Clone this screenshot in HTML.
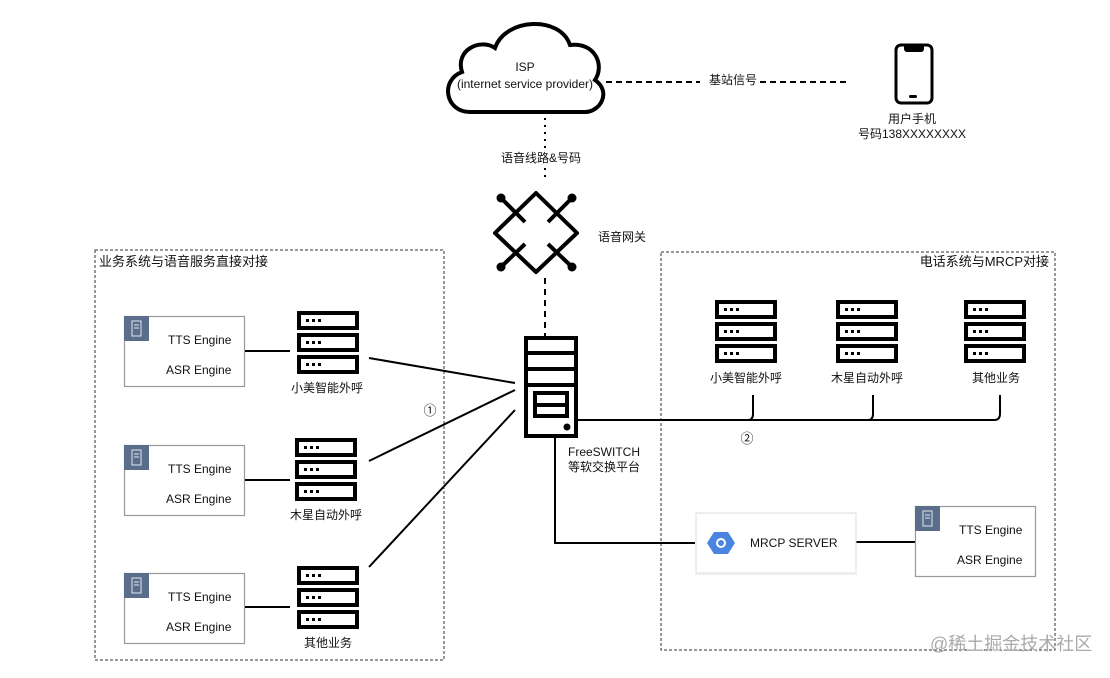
<!DOCTYPE html>
<html><head><meta charset="utf-8"><style>
html,body{margin:0;padding:0;background:#fff;}
svg text{font-family:"Liberation Sans","Noto Sans CJK SC",sans-serif;fill:#111;}
</style></head><body>
<svg width="1110" height="673" viewBox="0 0 1110 673" xmlns="http://www.w3.org/2000/svg">
<defs>
<g id="srv">
  <rect x="2" y="2" width="58" height="15" fill="none" stroke="#000" stroke-width="4"/>
  <rect x="2" y="24" width="58" height="15" fill="none" stroke="#000" stroke-width="4"/>
  <rect x="2" y="46" width="58" height="15" fill="none" stroke="#000" stroke-width="4"/>
  <g fill="#000"><rect x="9" y="8" width="3" height="3"/><rect x="15" y="8" width="3" height="3"/><rect x="21" y="8" width="3" height="3"/>
  <rect x="9" y="30" width="3" height="3"/><rect x="15" y="30" width="3" height="3"/><rect x="21" y="30" width="3" height="3"/>
  <rect x="9" y="52" width="3" height="3"/><rect x="15" y="52" width="3" height="3"/><rect x="21" y="52" width="3" height="3"/></g>
</g>
<g id="eng">
  <rect x="0.5" y="0.5" width="120" height="70" fill="#fff" stroke="#999" stroke-width="1.2"/>
  <rect x="0" y="0" width="25" height="25" fill="#5a6e8c"/>
  <rect x="8" y="5" width="9" height="15" fill="none" stroke="#dfe6f0" stroke-width="1"/>
  <line x1="10" y1="9" x2="15" y2="9" stroke="#dfe6f0"/><line x1="10" y1="12" x2="15" y2="12" stroke="#dfe6f0"/>
  <text x="44" y="28" font-size="12">TTS Engine</text>
  <text x="42" y="58" font-size="12">ASR Engine</text>
</g>
</defs>

<rect x="95" y="250" width="349" height="410" fill="none" stroke="#333" stroke-width="1" stroke-dasharray="3,2"/>
<text x="99" y="266" font-size="13">业务系统与语音服务直接对接</text>
<rect x="661" y="252" width="394" height="398" fill="none" stroke="#333" stroke-width="1" stroke-dasharray="3,2"/>
<text x="1049" y="266" font-size="13" text-anchor="end">电话系统与MRCP对接</text>

<path d="M470,112 C445,112 440,80 462,72 C455,50 480,38 495,48 C505,18 560,15 570,45 C595,42 605,65 595,80 C612,92 600,112 585,112 Z" fill="#fff" stroke="#000" stroke-width="4"/>
<text x="525" y="71" font-size="12" text-anchor="middle">ISP</text>
<text x="525" y="88" font-size="12" text-anchor="middle">(internet service provider)</text>

<line x1="606" y1="82" x2="700" y2="82" stroke="#000" stroke-width="2" stroke-dasharray="6,4"/>
<text x="709" y="84" font-size="12">基站信号</text>
<line x1="760" y1="82" x2="848" y2="82" stroke="#000" stroke-width="2" stroke-dasharray="6,4"/>
<rect x="896" y="45" width="36" height="58" rx="5" fill="none" stroke="#000" stroke-width="3"/>
<path d="M904,46 h20 v3 a3,3 0 0 1 -3,3 h-14 a3,3 0 0 1 -3,-3z" fill="#000"/>
<rect x="909" y="95" width="8" height="3" rx="1.5" fill="#000"/>
<text x="912" y="123" font-size="12" text-anchor="middle">用户手机</text>
<text x="912" y="138" font-size="12" text-anchor="middle">号码138XXXXXXXX</text>

<line x1="545" y1="118" x2="545" y2="148" stroke="#000" stroke-width="2" stroke-dasharray="2,5"/>
<text x="541" y="162" font-size="12" text-anchor="middle">语音线路&amp;号码</text>
<line x1="545" y1="168" x2="545" y2="182" stroke="#000" stroke-width="2" stroke-dasharray="2,5"/>

<g stroke="#000" stroke-width="4" fill="none" stroke-linejoin="round">
<polygon points="536,193 577,233 536,272 495,233"/>
<line x1="502" y1="199" x2="525" y2="222"/>
<line x1="571" y1="199" x2="548" y2="222"/>
<line x1="502" y1="266" x2="525" y2="244"/>
<line x1="571" y1="266" x2="548" y2="244"/>
</g>
<g fill="#000"><circle cx="501" cy="198" r="4.5"/><circle cx="572" cy="198" r="4.5"/><circle cx="501" cy="267" r="4.5"/><circle cx="572" cy="267" r="4.5"/></g>
<text x="598" y="241" font-size="12">语音网关</text>
<line x1="545" y1="278" x2="545" y2="336" stroke="#000" stroke-width="2" stroke-dasharray="6,5"/>

<g stroke="#000" stroke-width="4" fill="#fff">
<rect x="526" y="338" width="50" height="98"/>
<line x1="526" y1="353" x2="576" y2="353"/>
<line x1="526" y1="369" x2="576" y2="369"/>
<line x1="526" y1="385" x2="576" y2="385"/>
<rect x="535" y="393" width="32" height="23" fill="none"/>
<line x1="535" y1="405" x2="567" y2="405"/>
</g>
<circle cx="567" cy="427" r="3.5" fill="#000"/>
<text x="568" y="456" font-size="12">FreeSWITCH</text>
<text x="568" y="471" font-size="12">等软交换平台</text>

<use href="#eng" x="124" y="316"/>
<use href="#eng" x="124" y="445"/>
<use href="#eng" x="124" y="573"/>
<use href="#srv" x="297" y="311"/>
<use href="#srv" x="295" y="438"/>
<use href="#srv" x="297" y="566"/>
<text x="327" y="392" font-size="12" text-anchor="middle">小美智能外呼</text>
<text x="326" y="519" font-size="12" text-anchor="middle">木星自动外呼</text>
<text x="328" y="647" font-size="12" text-anchor="middle">其他业务</text>
<g stroke="#000" stroke-width="2">
<line x1="245" y1="351" x2="290" y2="351"/>
<line x1="245" y1="480" x2="290" y2="480"/>
<line x1="245" y1="607" x2="290" y2="607"/>
<line x1="369" y1="358" x2="515" y2="383"/>
<line x1="369" y1="461" x2="515" y2="390"/>
<line x1="369" y1="567" x2="515" y2="410"/>
</g>
<text x="430" y="415" font-size="13" text-anchor="middle">①</text>

<use href="#srv" x="715" y="300"/>
<use href="#srv" x="836" y="300"/>
<use href="#srv" x="964" y="300"/>
<text x="746" y="382" font-size="12" text-anchor="middle">小美智能外呼</text>
<text x="867" y="382" font-size="12" text-anchor="middle">木星自动外呼</text>
<text x="996" y="382" font-size="12" text-anchor="middle">其他业务</text>
<g stroke="#000" stroke-width="2" fill="none">
<path d="M578,420 H994 Q1000,420 1000,414 V395"/>
<path d="M748,420 Q753,420 753,414 V395"/>
<path d="M868,420 Q873,420 873,414 V395"/>
<path d="M555,437 V543 H695"/>
<line x1="855" y1="542" x2="935" y2="542"/>
</g>
<text x="747" y="443" font-size="13" text-anchor="middle">②</text>

<rect x="696" y="513" width="160" height="61" fill="#fff" stroke="#ddd" stroke-width="1"/>
<rect x="697" y="572" width="160" height="3" fill="#eee"/>
<polygon points="714,532 728,532 735,543 728,554 714,554 707,543" fill="#4a86e0"/>
<circle cx="721" cy="543" r="4" fill="none" stroke="#fff" stroke-width="2"/>
<text x="750" y="547" font-size="12">MRCP SERVER</text>
<use href="#eng" x="915" y="506"/>

<text x="930" y="650" font-size="18" style="fill:#aaa">@稀土掘金技术社区</text>
</svg>
</body></html>
